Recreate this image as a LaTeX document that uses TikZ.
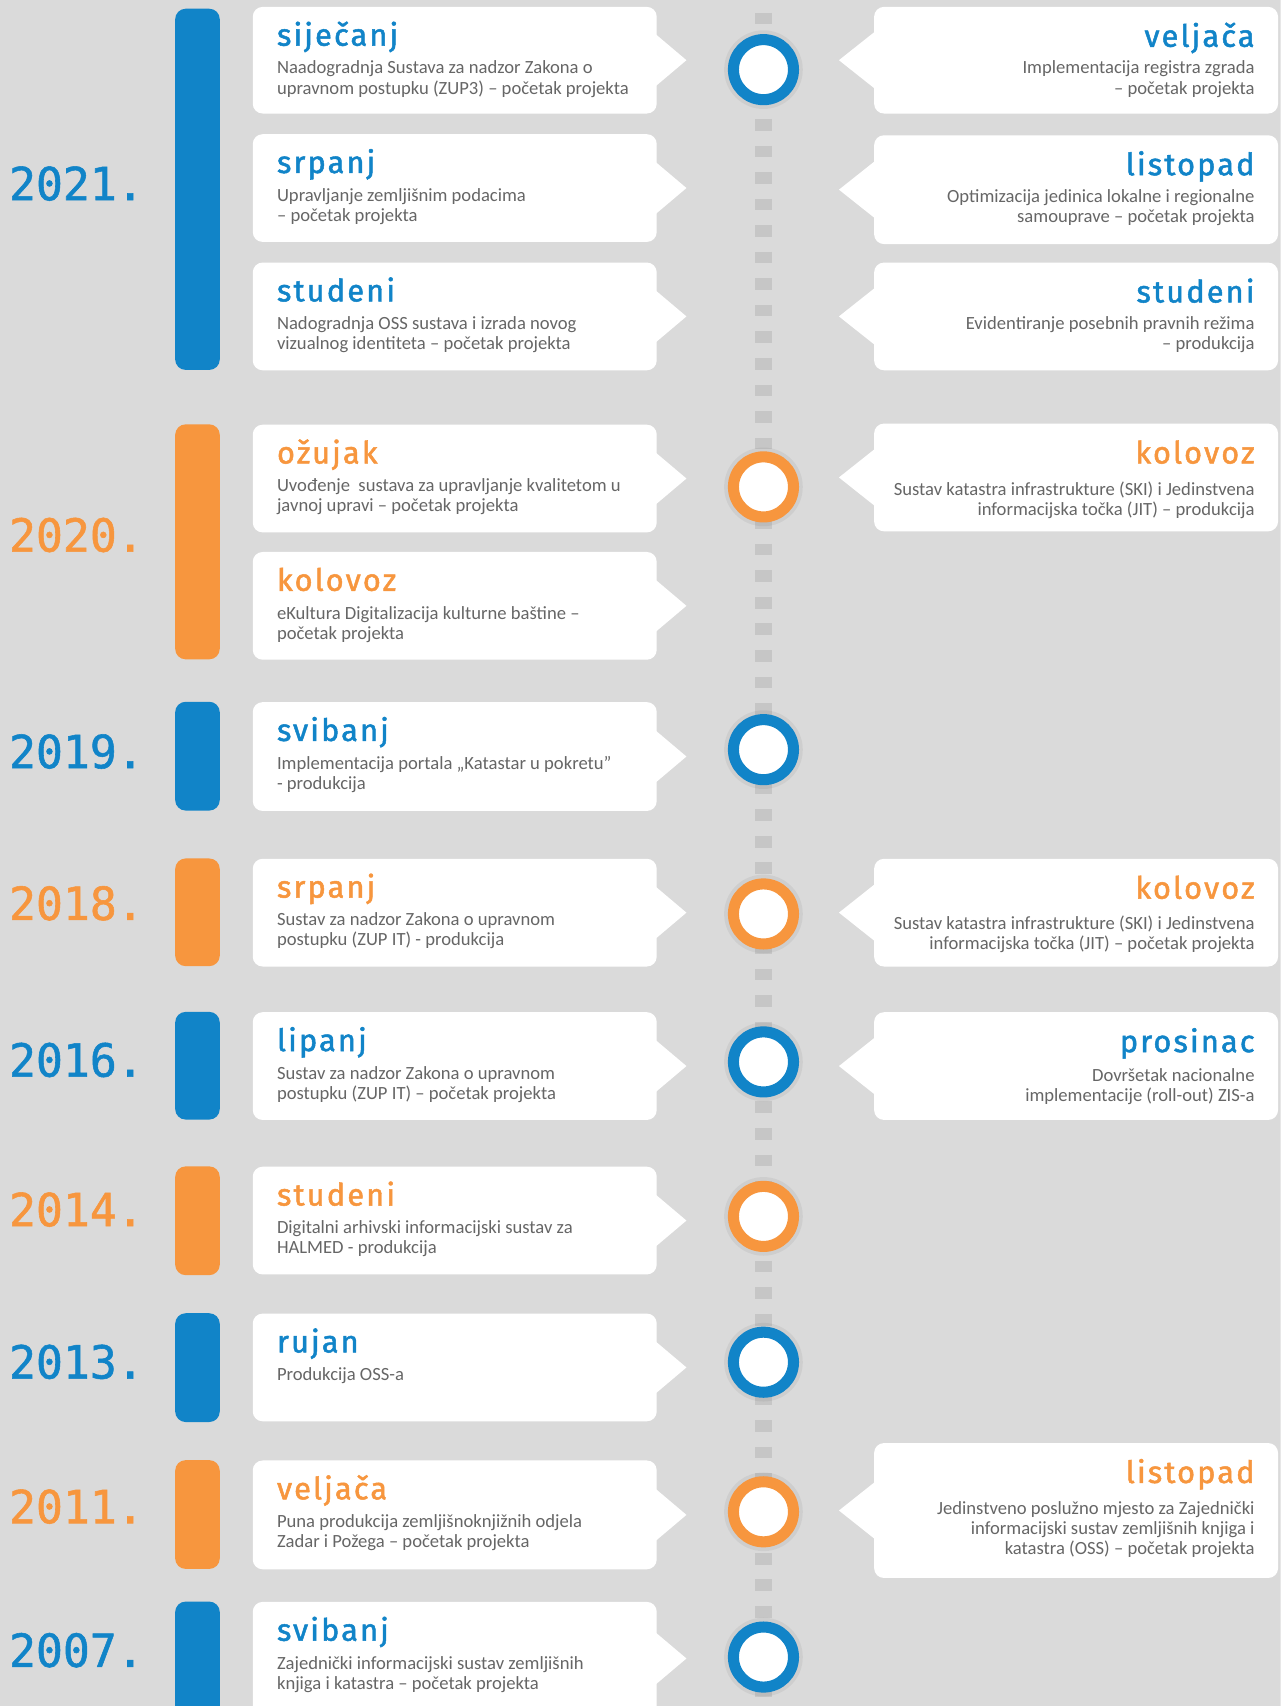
\documentclass[tikz,border=0pt]{standalone}
\usepackage{fontspec}
\setmainfont{Carlito}
\newfontfamily\titlefont{Fira Sans}[LetterSpace=7.0, FakeBold=1.6]
\newfontfamily\yearfont{DejaVu Sans Mono}[FakeStretch=0.98, FakeBold=1.2]
\definecolor{cblue}{RGB}{17,132,200}
\definecolor{corange}{RGB}{247,150,62}
\definecolor{bggray}{RGB}{218,218,218}
\definecolor{dashgray}{RGB}{198,198,198}
\definecolor{txtgray}{RGB}{102,102,102}
\begin{document}
\begin{tikzpicture}[x=0.6195pt,y=-0.6195pt]
    \tikzstyle{card}=[fill=white, rounded corners=5.6pt, inner sep=0pt, minimum width=230pt]
    \tikzstyle{ring}=[circle, fill=white, line width=6.3pt, minimum size=34.2pt, inner sep=0pt]
    \tikzstyle{month}=[inner sep=0pt, font=\titlefont\fontsize{17.5}{20}\selectfont]
    \tikzstyle{body}=[inner sep=0pt, text=txtgray, font=\fontsize{10.6}{11.4}\selectfont]
    \tikzstyle{year}=[inner sep=0pt, anchor=base west, font=\yearfont\fontsize{26}{30}\selectfont]
    \tikzstyle{dashline}=[dashgray, line width=9.7pt, dash pattern=on 6.63pt off 8.49pt, dash phase=7.87pt]
    \useasboundingbox (0,0) rectangle (1177,1568);
    \clip (0,0) rectangle (1177,1568);
    \fill[bggray] (0,0) rectangle (1177,1568);
    % time line
    \coordinate (ltop) at (701.7,0);
    \coordinate (lbot) at (701.7,1568);
    \draw[dashline] (ltop) -- (lbot);
    % years with their bars
    \foreach \yr/\t/\b/\base/\c in {2021/8/340/184/cblue, 2020/390/606/507/corange, 2019/645/745/706/cblue, 2018/789/888/845.5/corange, 2016/930/1029/989.5/cblue, 2014/1072/1172/1127/corange, 2013/1207/1307/1267/cblue, 2011/1342/1442/1400/corange, 2007/1472/1600/1532/cblue}{
        \fill[\c, rounded corners=6pt] (161,\t) rectangle (202,\b);
        \node[year, text=\c] (y\yr) at (8,\base) {\yr.};
    }
    % left cards
    \foreach \n/\t/\h/\o/\c/\m/\d in {1/6/98/62/cblue/siječanj/{Naadogradnja Sustava za nadzor Zakona o\\upravnom postupku (ZUP3) – početak projekta},
        2/123/99/62/cblue/srpanj/{Upravljanje zemljišnim podacima\\– početak projekta},
        3/241/99/62/cblue/studeni/{Nadogradnja OSS sustava i izrada novog\\vizualnog identiteta – početak projekta},
        4/390/99/62/corange/ožujak/{Uvođenje\ \ sustava za upravljanje kvalitetom u\\javnoj upravi – početak projekta},
        5/507/99/62/corange/kolovoz/{eKultura Digitalizacija kulturne baštine –\\početak projekta},
        6/645/100/62/cblue/svibanj/{Implementacija portala „Katastar u pokretu”\\- produkcija},
        7/789/99/62/corange/srpanj/{Sustav za nadzor Zakona o upravnom\\postupku (ZUP IT) - produkcija},
        8/930/99/62/cblue/lipanj/{Sustav za nadzor Zakona o upravnom\\postupku (ZUP IT) – početak projekta},
        9/1072/99/62/corange/studeni/{Digitalni arhivski informacijski sustav za\\HALMED - produkcija},
        10/1207/99/62/cblue/rujan/{Produkcija OSS-a},
        11/1342/100/62/corange/veljača/{Puna produkcija zemljišnoknjižnih odjela\\Zadar i Požega – početak projekta},
        12/1472/104/62/cblue/svibanj/{Zajednički informacijski sustav zemljišnih\\knjiga i katastra – početak projekta}}{
        \node[card, minimum height=\h*0.6195pt, anchor=north west] (L\n) at (232,\t) {};
        \fill[white] (L\n.east) ++(-2,-24.5) -- ++(29,24.5) -- ++(-29,24.5) -- cycle;
        \node[month, text=\c, anchor=base west] (Lm\n) at (254.3,\t+36) {\m};
        \node[body, anchor=base west] (Lb\n) at (254.3,\t+\o) {\begin{tabular}[t]{@{}l@{}}\d\end{tabular}};
    }
    % right cards
    \foreach \n/\t/\h/\o/\c/\m/\d in {1/6/98/62/cblue/veljača/{Implementacija registra zgrada\\– početak projekta},
        2/124/100/62/cblue/listopad/{Optimizacija jedinica lokalne i regionalne\\samouprave – početak projekta},
        3/241/99/62/cblue/studeni/{Evidentiranje posebnih pravnih režima\\– produkcija},
        4/389/99/66/corange/kolovoz/{Sustav katastra infrastrukture (SKI) i Jedinstvena\\informacijska točka (JIT) – produkcija},
        5/789/99/65/corange/kolovoz/{Sustav katastra infrastrukture (SKI) i Jedinstvena\\informacijska točka (JIT) – početak projekta},
        6/930/99/64/cblue/prosinac/{Dovršetak nacionalne\\implementacije (roll-out) ZIS-a},
        7/1326/124/66/corange/listopad/{Jedinstveno poslužno mjesto za Zajednički\\informacijski sustav zemljišnih knjiga i\\katastra (OSS) – početak projekta}}{
        \node[card, minimum height=\h*0.6195pt, anchor=north east] (R\n) at (1175,\t) {};
        \fill[white] (R\n.west) ++(2,-27) -- ++(-34,27) -- ++(34,27) -- cycle;
        \node[month, text=\c, anchor=base east] (Rm\n) at (1153.4,\t+37) {\m};
        \node[body, anchor=base east] (Rb\n) at (1153.4,\t+\o) {\begin{tabular}[t]{@{}r@{}}\d\end{tabular}};
    }
    % rings on the time line
    \foreach \n/\yc/\c in {1/64/cblue, 2/447.5/corange, 3/689/cblue, 4/840/corange, 5/976/cblue, 6/1118/corange, 7/1252/cblue, 8/1389.5/corange, 9/1523/cblue}{
        \fill[black, opacity=0.05] (701.7,\yc) circle (22.4pt);
        \node[ring, draw=\c] (o\n) at (701.7,\yc) {};
    }
\end{tikzpicture}
\end{document}
